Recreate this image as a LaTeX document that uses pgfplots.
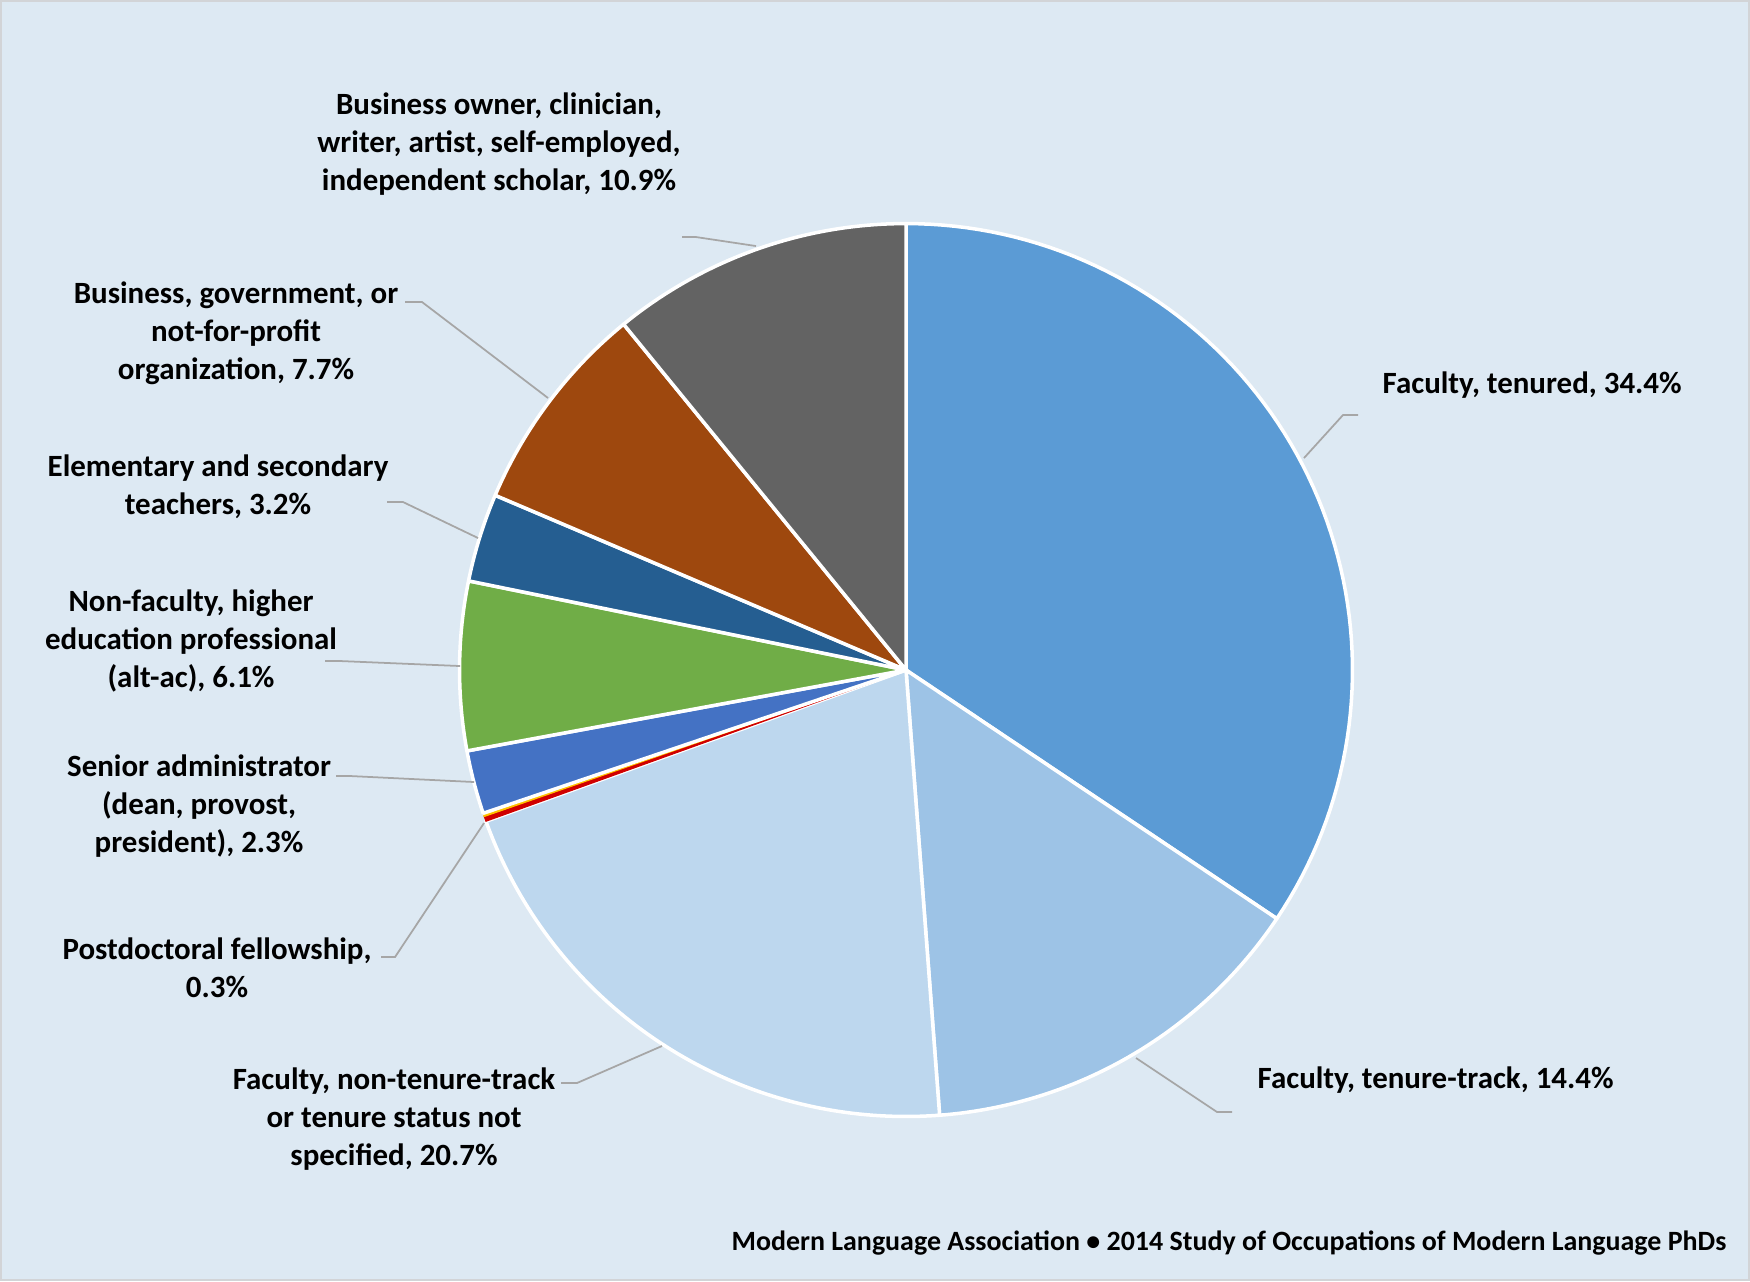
\documentclass[border=0pt]{standalone}
\usepackage{pgfplots}
\pgfplotsset{compat=1.18}
\usepackage{fontspec}
\setmainfont{Carlito}
\definecolor{bg}{RGB}{221,233,243}
\definecolor{bordergrey}{RGB}{210,212,215}
\definecolor{leader}{RGB}{166,166,166}
\definecolor{cA}{HTML}{5B9BD5}
\definecolor{cB}{HTML}{9DC3E6}
\definecolor{cC}{HTML}{BDD7EE}
\definecolor{cD}{HTML}{D00000}
\definecolor{cE}{HTML}{FFC000}
\definecolor{cF}{HTML}{4472C4}
\definecolor{cG}{HTML}{70AD47}
\definecolor{cH}{HTML}{255E91}
\definecolor{cI}{HTML}{9E480E}
\definecolor{cJ}{HTML}{636363}
\newcommand\lf{\fontsize{8.8}{10.8}\selectfont\bfseries}
% slice: start percentage, percentage, colour, border colour
\newcommand\pieslice[4]{%
  \addplot[fill=#3, draw=#4, line width=1pt, line join=round, domain={#1*3.6}:{(#1+#2)*3.6}, samples=80, variable=\t]
    ({906+446.5*sin(\t)},{670-446.5*cos(\t)}) -- (axis cs:906,670) -- cycle;
}
\tikzset{lab/.style={font=\lf, text=black, inner sep=0pt}}
\begin{document}
\begin{tikzpicture}
\begin{axis}[
  scale only axis, width=17.5cm, height=12.81cm,
  xmin=0, xmax=1750, ymin=0, ymax=1281, y dir=reverse,
  hide axis, clip=false,
]
\draw[fill=bg, draw=bordergrey, line width=0.6pt] (axis cs:1,1) rectangle (axis cs:1749,1280);
% slices (percent of total, clockwise from 12 o'clock)
\pieslice{0}{34.4}{cA}{white}
\pieslice{34.4}{14.4}{cB}{white}
\pieslice{48.8}{20.7}{cC}{white}
\addplot[fill=cD, draw=cD, line width=0.3pt, domain={69.5*3.6}:{69.68*3.6}, samples=5, variable=\t]
    ({906+446.5*sin(\t)},{670-446.5*cos(\t)}) -- (axis cs:906,670) -- cycle;
\addplot[fill=cE, draw=cE, line width=0.3pt, domain={69.68*3.6}:{69.8*3.6}, samples=5, variable=\t]
    ({906+446.5*sin(\t)},{670-446.5*cos(\t)}) -- (axis cs:906,670) -- cycle;
\pieslice{69.8}{2.3}{cF}{white}
\pieslice{72.1}{6.1}{cG}{white}
\pieslice{78.2}{3.2}{cH}{white}
\pieslice{81.4}{7.7}{cI}{white}
\pieslice{89.1}{10.9}{cJ}{white}
% leader lines
\addplot[leader, line width=0.5pt, mark=none] coordinates {(1304,458) (1343,415) (1358,415)};
\addplot[leader, line width=0.5pt, mark=none] coordinates {(1136,1058) (1217,1112) (1232,1112)};
\addplot[leader, line width=0.5pt, mark=none] coordinates {(662,1046) (577,1083) (561,1083)};
\addplot[leader, line width=0.5pt, mark=none] coordinates {(484,823) (395,957) (381,957)};
\addplot[leader, line width=0.5pt, mark=none] coordinates {(474,782) (350,776) (336,776)};
\addplot[leader, line width=0.5pt, mark=none] coordinates {(460,666) (340,661) (325,661)};
\addplot[leader, line width=0.5pt, mark=none] coordinates {(478,538) (403,502) (387,502)};
\addplot[leader, line width=0.5pt, mark=none] coordinates {(548,398) (422,302) (405,302)};
\addplot[leader, line width=0.5pt, mark=none] coordinates {(756,246) (696,237) (682,237)};
% labels
\node[lab, anchor=west] at (axis cs:1382,385) {Faculty, tenured, 34.4\%};
\node[lab, anchor=west] at (axis cs:1257,1080) {Faculty, tenure-track, 14.4\%};
\node[lab, align=center] at (axis cs:394,1119) {Faculty, non-tenure-track\\or tenure status not\\specified, 20.7\%};
\node[lab, align=center] at (axis cs:217,968) {Postdoctoral fellowship,\\0.3\%};
\node[lab, align=center] at (axis cs:199,806) {Senior administrator\\(dean, provost,\\president), 2.3\%};
\node[lab, align=center] at (axis cs:191,641) {Non-faculty, higher\\education professional\\(alt-ac), 6.1\%};
\node[lab, align=center] at (axis cs:218,487) {Elementary and secondary\\teachers, 3.2\%};
\node[lab, align=center] at (axis cs:236,333) {Business, government, or\\not-for-profit\\organization, 7.7\%};
\node[lab, align=center] at (axis cs:499,144) {Business owner, clinician,\\writer, artist, self-employed,\\independent scholar, 10.9\%};
\node[lab, anchor=east, font=\fontsize{7.95}{9}\selectfont\bfseries] at (axis cs:1727,1243) {Modern Language Association \textbullet\ 2014 Study of Occupations of Modern Language PhDs};
\end{axis}
\end{tikzpicture}
\end{document}
